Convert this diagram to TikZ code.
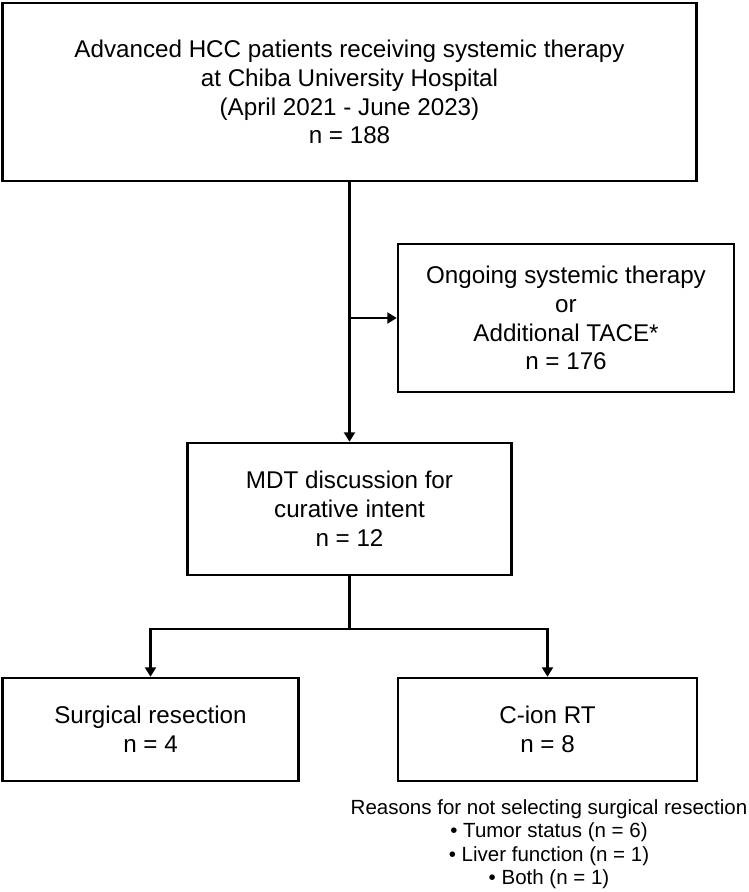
\documentclass[tikz,border=0pt]{standalone}
\usepackage{fontspec}
\setmainfont{Liberation Sans}
\usetikzlibrary{arrows.meta}
\tikzset{
  flowbox/.style={draw=black, line width=2.5pt, rectangle, inner sep=0pt, align=center,
    font=\fontsize{24.2}{28.8}\selectfont},
  conn/.style={line width=2.4pt},
  arr/.style={conn, -{Triangle[length=9.5pt,width=11pt]}},
  note/.style={align=center, inner sep=0pt, font=\fontsize{20.5}{23.5}\selectfont}
}
\begin{document}
\begin{tikzpicture}[x=1pt,y=-1pt]
\useasboundingbox[fill=white] (0,0) rectangle (749,892);
\node[flowbox, minimum width=694pt, minimum height=178pt] (top) at (349.5,92)
  {Advanced HCC patients receiving systemic therapy\\at Chiba University Hospital\\(April 2021 - June 2023)\\n = 188};
\node[flowbox, minimum width=336pt, minimum height=148pt] (ong) at (566,318)
  {Ongoing systemic therapy\\or\\Additional TACE*\\n = 176};
\node[flowbox, minimum width=324pt, minimum height=132pt] (mdt) at (349.5,509)
  {MDT discussion for\\curative intent\\n = 12};
\node[flowbox, minimum width=296pt, minimum height=103pt] (surg) at (150.5,729.5)
  {Surgical resection\\n = 4};
\node[flowbox, minimum width=299pt, minimum height=103pt] (cion) at (547.5,729.5)
  {C-ion RT\\n = 8};
\node[note] (reasons) at (549,844)
  {Reasons for not selecting surgical resection\\• Tumor status (n = 6)\\• Liver function (n = 1)\\• Both (n = 1)};
\coordinate (j) at (349.5,629);
\draw[arr] (top.south) -- (mdt.north);
\draw[arr] (top.south |- ong.west) -- (ong.west);
\draw[conn] (mdt.south) -- (j);
\draw[arr] (j) -| (surg.north);
\draw[arr] (j) -| (cion.north);
\end{tikzpicture}
\end{document}
